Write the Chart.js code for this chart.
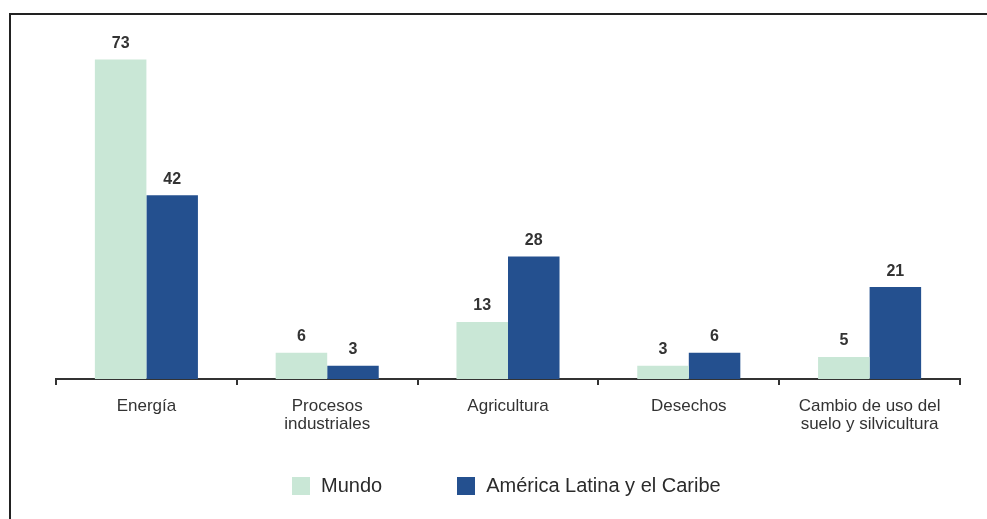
<!DOCTYPE html>
<html>
<head>
<meta charset="utf-8">
<script src="https://cdn.jsdelivr.net/npm/chart.js@4"></script>
<style>
  html, body { margin: 0; padding: 0; background: #fff; }
  #wrap { position: relative; width: 987px; height: 519px; font-family: "Liberation Sans", Arial, sans-serif; }
  #frame { position: absolute; left: 9px; top: 13px; right: -5px; bottom: -5px; border-top: 2px solid #222; border-left: 2px solid #222; }
  #legend { position: absolute; top: 474px; left: 292px; display: flex; align-items: center; font-size: 20px; color: #2b2b2b; }
  .item { display: flex; align-items: center; margin-right: 75px; }
  .box { width: 18px; height: 18px; margin-right: 11px; }
</style>
</head>
<body>
<div id="wrap">
  <div id="frame"></div>
  <canvas id="c" width="987" height="519"></canvas>
  <div id="legend"></div>
</div>
<script>
// categories and values
const categories = ["Energía", ["Procesos", "industriales"], "Agricultura", "Desechos", ["Cambio de uso del", "suelo y silvicultura"]];
const seriesNames = ["Mundo", "América Latina y el Caribe"];
const mundo = [73, 6, 13, 3, 5];
const alc = [42, 3, 28, 6, 21];
const colors = ["#c9e7d6", "#24508f"];

// legend as plain html
const leg = document.getElementById("legend");
seriesNames.forEach(function (name, i) {
  const it = document.createElement("div");
  it.className = "item";
  it.innerHTML = '<div class="box" style="background:' + colors[i] + '"></div><span>' + name + '</span>';
  leg.appendChild(it);
});

// value labels above each bar
const barLabels = {
  id: "barLabels",
  afterDatasetsDraw: function (chart) {
    const ctx = chart.ctx;
    ctx.save();
    ctx.font = "bold 16px 'Liberation Sans', Arial, sans-serif";
    ctx.fillStyle = "#333";
    ctx.textAlign = "center";
    ctx.textBaseline = "bottom";
    chart.data.datasets.forEach(function (ds, i) {
      chart.getDatasetMeta(i).data.forEach(function (bar, j) {
        ctx.fillText(ds.data[j], bar.x, bar.y - 8);
      });
    });
    ctx.restore();
  }
};

new Chart(document.getElementById("c"), {
  type: "bar",
  data: {
    labels: categories,
    datasets: [
      { label: seriesNames[0], data: mundo, backgroundColor: colors[0] },
      { label: seriesNames[1], data: alc, backgroundColor: colors[1] }
    ]
  },
  options: {
    responsive: false,
    animation: false,
    layout: { padding: { left: 56, right: 27, top: 29, bottom: 74 } },
    datasets: { bar: { categoryPercentage: 0.57, barPercentage: 1.0 } },
    plugins: { legend: { display: false }, tooltip: { enabled: false } },
    scales: {
      y: { display: false, min: 0, max: 80 },
      x: {
        grid: { offset: true, drawOnChartArea: false, drawTicks: true, tickLength: 6, color: "#333", lineWidth: 2 },
        border: { display: true, color: "#333", width: 2 },
        ticks: { color: "#333", padding: 12, font: { family: "'Liberation Sans', Arial, sans-serif", size: 17, lineHeight: 1.06 }, maxRotation: 0, autoSkip: false }
      }
    }
  },
  plugins: [barLabels]
});
</script>
</body>
</html>
